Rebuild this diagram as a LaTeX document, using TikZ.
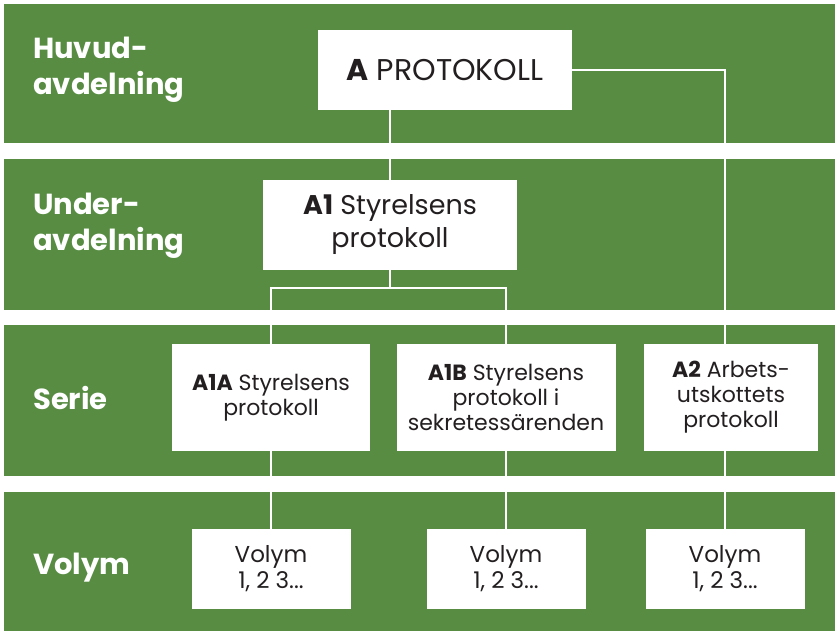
\documentclass[tikz,border=0pt]{standalone}
\usepackage{fontspec}
\setmainfont{Poppins}
\definecolor{bandgreen}{RGB}{87,140,66}
\definecolor{boxtext}{RGB}{35,31,32}
\pgfdeclarelayer{background}
\pgfdeclarelayer{links}
\pgfsetlayers{background,links,main}
\tikzset{
    unit/.style={fill=white, text=boxtext, align=center, inner sep=0pt,
        font=\fontsize{22}{25}\selectfont},
    level/.style={anchor=west, text=white, align=left, inner sep=0pt,
        font=\fontsize{29}{36}\selectfont\bfseries},
    link/.style={white, line width=1.6pt}
}
\begin{document}
\begin{tikzpicture}[x=1pt, y=-1pt]
    \useasboundingbox (0,0) rectangle (835,632);
    % bands
    \begin{pgfonlayer}{background}
        \fill[bandgreen] (4,4) rectangle (835,143);
        \fill[bandgreen] (4,159) rectangle (835,310);
        \fill[bandgreen] (4,325) rectangle (835,476);
        \fill[bandgreen] (4,492) rectangle (835,631);
    \end{pgfonlayer}

    \node[level] (huvud) at (33,70) {Huvud-\\avdelning};
    \node[level] (under) at (33,226) {Under-\\avdelning};
    \node[level] (serie) at (33,398) {Serie};
    \node[level] (volym) at (33,568) {Volym};

    % boxes
    \node[unit, minimum width=254pt, minimum height=80pt, font=\fontsize{30}{33}\selectfont] (A) at (445,70) {\textbf{A} PROTOKOLL};
    \node[unit, minimum width=254pt, minimum height=90pt, font=\fontsize{27}{33}\selectfont] (A1) at (390,225) {\textbf{A1} Styrelsens\\protokoll};
    \node[unit, minimum width=198pt, minimum height=107pt] (A1A) at (271,397.5) {\textbf{A1A} Styrelsens\\protokoll};
    \node[unit, minimum width=219pt, minimum height=107pt] (A1B) at (506,397.5) {\textbf{A1B} Styrelsens\\protokoll i\\sekretessärenden};
    \node[unit, minimum width=174pt, minimum height=107pt] (A2) at (731,397.5) {\textbf{A2} Arbets-\\utskottets\\protokoll};
    \node[unit, minimum width=159pt, minimum height=80pt, font=\fontsize{23}{26}\selectfont] (V1) at (271,569) {Volym\\1, 2 3...};
    \node[unit, minimum width=159pt, minimum height=80pt, font=\fontsize{23}{26}\selectfont] (V2) at (506,569) {Volym\\1, 2 3...};
    \node[unit, minimum width=159pt, minimum height=80pt, font=\fontsize{23}{26}\selectfont] (V3) at (725,569) {Volym\\1, 2 3...};

    % links
    \begin{pgfonlayer}{links}
        \coordinate (fork) at (390,288);
        \draw[link] (A.south -| A1.north) -- (A1.north);
        \draw[link] (A.east) -| (V3.north);
        \draw[link] (A1.south) -- (fork);
        \draw[link] (fork) -| (A1A.north);
        \draw[link] (fork) -| (A1B.north);
        \draw[link] (A1A.south) -- (V1.north);
        \draw[link] (A1B.south) -- (V2.north);
    \end{pgfonlayer}
\end{tikzpicture}
\end{document}
